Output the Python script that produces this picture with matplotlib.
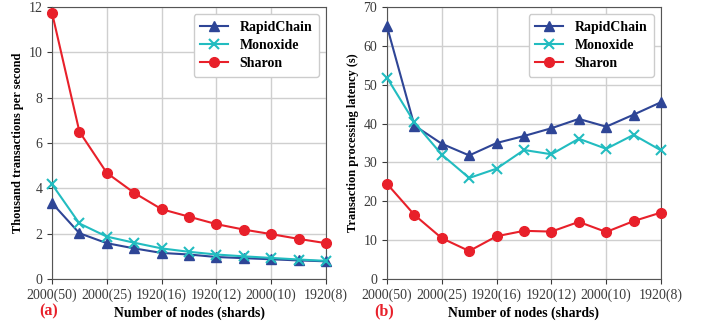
import matplotlib
matplotlib.use("Agg")
import matplotlib.pyplot as plt

plt.rcParams['font.family'] = ['Liberation Serif', 'DejaVu Serif']

# data
xlabels = ["2000(50)", "2000(25)", "1920(16)", "1920(12)", "2000(10)", "1920(8)"]
x = list(range(11))

tps_rapid = [3.35, 2.02, 1.58, 1.35, 1.15, 1.08, 0.97, 0.92, 0.87, 0.82, 0.78]
tps_mono = [4.18, 2.45, 1.87, 1.60, 1.35, 1.20, 1.08, 1.00, 0.93, 0.86, 0.80]
tps_sharon = [11.75, 6.50, 4.68, 3.80, 3.08, 2.75, 2.42, 2.18, 1.98, 1.77, 1.58]

lat_rapid = [65.0, 39.5, 34.8, 31.8, 35.0, 36.8, 38.8, 41.2, 39.2, 42.3, 45.5]
lat_mono = [51.8, 40.3, 32.0, 26.0, 28.4, 33.2, 32.1, 36.1, 33.5, 37.1, 33.1]
lat_sharon = [24.5, 16.5, 10.5, 7.2, 11.0, 12.4, 12.2, 14.7, 12.1, 14.9, 17.1]

C_RAPID = "#2e4596"
C_MONO = "#22bcc0"
C_SHARON = "#e8202a"

W, H = 702, 326
fig = plt.figure(figsize=(W / 100, H / 100), dpi=100)
ax1 = fig.add_axes([52 / W, 1 - 279 / H, 274 / W, 272 / H])
ax2 = fig.add_axes([387 / W, 1 - 279 / H, 274 / W, 272 / H])


def draw(ax, rapid, mono, sharon, ylim, yticks, ylabel, tag):
    ax.plot(x, rapid, color=C_RAPID, marker="^", ms=7, lw=1.5, label="RapidChain", clip_on=False, zorder=3)
    ax.plot(x, mono, color=C_MONO, marker="x", ms=7, mew=1.5, lw=1.5, label="Monoxide", clip_on=False, zorder=3)
    ax.plot(x, sharon, color=C_SHARON, marker="o", ms=7, lw=1.5, label="Sharon", clip_on=False, zorder=3)
    ax.set_xlim(0, 10)
    ax.set_ylim(*ylim)
    ax.set_xticks(range(0, 11, 2))
    ax.set_xticklabels(xlabels)
    ax.set_yticks(yticks)
    ax.grid(True, color="#cfcfcf", lw=1)
    ax.set_axisbelow(True)
    for s in ax.spines.values():
        s.set_color("#555555")
    ax.tick_params(labelsize=10, colors="#3a3a3a", length=3.5)
    ax.set_ylabel(ylabel, fontsize=8.9, fontweight="bold", labelpad=3)
    ax.set_xlabel("Number of nodes (shards)", fontsize=9.8, fontweight="bold", labelpad=3)
    ax.text(-0.045, -0.12, tag, transform=ax.transAxes, color=C_SHARON, fontsize=11.5,
            fontweight="bold", ha="left", va="center")
    leg = ax.legend(loc="upper right", prop={"weight": "bold", "size": 10}, handlelength=2,
                    labelspacing=0.35, handletextpad=0.8, borderaxespad=0.5,
                    fancybox=True, framealpha=1, edgecolor="#cccccc", borderpad=0.5)
    leg.get_frame().set_linewidth(1)


draw(ax1, tps_rapid, tps_mono, tps_sharon, (0, 12), range(0, 13, 2),
     "Thousand transactions per second", "(a)")
draw(ax2, lat_rapid, lat_mono, lat_sharon, (0, 70), range(0, 71, 10),
     "Transaction processing latency (s)", "(b)")

fig.savefig("out.png", dpi=100)
